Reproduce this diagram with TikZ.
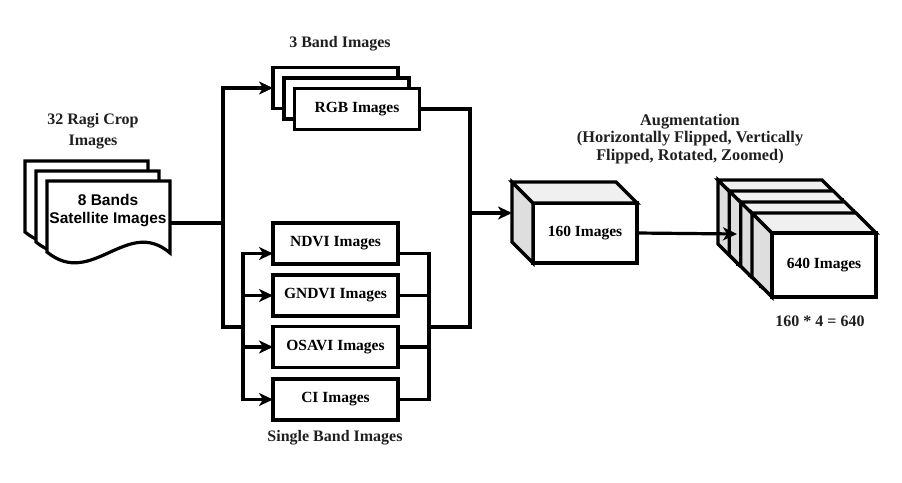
\documentclass[tikz,border=0pt]{standalone}
\usepackage{fontspec}
\setmainfont{Liberation Serif}
\newfontfamily\satfont{Liberation Sans}
\usetikzlibrary{arrows.meta,positioning}

\definecolor{sidegray}{gray}{0.87}
\definecolor{topgray}{gray}{0.94}

\tikzset{
  flow/.style={line width=3.2pt, line join=miter},
  arrowflow/.style={flow, -{Stealth[length=14pt,width=13pt,inset=4pt]}},
  imgbox/.style={draw, line width=3.2pt, fill=white, outer sep=0pt,
    minimum width=125pt, minimum height=41pt,
    font=\bfseries\fontsize{15.5}{18}\selectfont},
  caption/.style={font=\bfseries\fontsize{16}{21}\selectfont, align=center, text=black!88},
}

\begin{document}
\begin{tikzpicture}[x=1pt, y=-1pt]
  \useasboundingbox (0,0) rectangle (902,482);

  % Satellite sheets, back to front
  \foreach \sx/\sy in {25/161, 36/171, 47/181} {
    \draw[flow, fill=white] (\sx,\sy) -- ({\sx+123},\sy) -- ({\sx+123},{\sy+72})
      .. controls ({\sx+80},{\sy+35}) and ({\sx+45},{\sy+108}) .. (\sx,{\sy+71}) -- cycle;
  }
  \node[font=\satfont\bfseries\fontsize{15.5}{18}\selectfont, align=center] (sat) at (108,211) {8 Bands\\Satellite Images};
  \node[caption] (title) at (93,131) {32 Ragi Crop\\Images};
  \coordinate (satout) at (170,223);

  % 3 band stack
  \node[imgbox] (rgbA) at (335.5,88) {};
  \node[imgbox] (rgbB) at (346.5,98.5) {};
  \node[imgbox] (rgbC) at (357,109) {RGB Images};
  \node[caption] (band3) at (340,44) {3 Band Images};

  % Single band images
  \foreach \nm/\txt/\yy in {ndvi/NDVI/243.5, gndvi/GNDVI/295.5, osavi/OSAVI/347, ci/CI/399.5} {
    \node[imgbox] (\nm) at (335.5,\yy) {\txt{} Images};
  }
  \node[caption] (band1) at (335,438) {Single Band Images};

  % Bus points
  \coordinate (split) at (223,223);
  \coordinate (lbus) at (243,327);
  \coordinate (rbus) at (429,327);
  \coordinate (join) at (470,327);
  \coordinate (merge) at (470,213);

  \draw[flow] (satout) -- (split);
  \draw[arrowflow] (split) |- (rgbA.west);
  \draw[flow] (split) |- (lbus);
  \draw[arrowflow] (lbus) |- ([yshift=-10pt]ndvi.west);
  \foreach \nm in {gndvi,osavi,ci} {
    \draw[arrowflow] (lbus) |- (\nm.west);
  }
  \draw[flow] ([yshift=-10pt]ndvi.east) -| (rbus);
  \foreach \nm in {gndvi,osavi,ci} {
    \draw[flow] (\nm.east) -| (rbus);
  }
  \draw[flow] (rgbC.east) -| (join) -- (rbus);

  % 160 cube
  \node[imgbox, minimum width=104pt, minimum height=60pt] (c160) at (585,233) {160 Images};
  \draw[flow, fill=sidegray] (c160.north west) -- ++(-21,-21) coordinate (c160back)
    -- ++(0,60) -- (c160.south west) -- cycle;
  \draw[flow, fill=topgray] (c160.north west) -- (c160back) -- ++(104,0) -- (c160.north east) -- cycle;
  \draw[arrowflow] (merge) -- (merge -| c160back);

  % 640 stack, four cubes
  \foreach \k in {0,...,3} {
    \pgfmathsetmacro\bx{718+11.33*\k}
    \pgfmathsetmacro\by{180+11*\k}
    \draw[flow, fill=sidegray] (\bx,\by) -- ++(20,20) -- ++(0,64) -- ++(-20,-20) -- cycle;
    \draw[flow, fill=topgray] (\bx,\by) -- ++(104,0) -- ++(20,20) -- ++(-104,0) -- cycle;
    \draw[flow, fill=white] ({\bx+20},{\by+20}) rectangle ++(104,64);
  }
  \node[font=\bfseries\fontsize{15.5}{18}\selectfont] (c640) at (824,265) {640 Images};
  \coordinate (stackin) at (737,234);
  \draw[arrowflow] (c160.east) -- (stackin);

  \node[caption, font=\bfseries\fontsize{16.3}{17.5}\selectfont] (aug) at (690,139)
    {Augmentation\\(Horizontally Flipped, Vertically\\Flipped, Rotated, Zoomed)};
  \node[caption] (calc) at (820,321) {160 * 4 = 640};
\end{tikzpicture}
\end{document}
